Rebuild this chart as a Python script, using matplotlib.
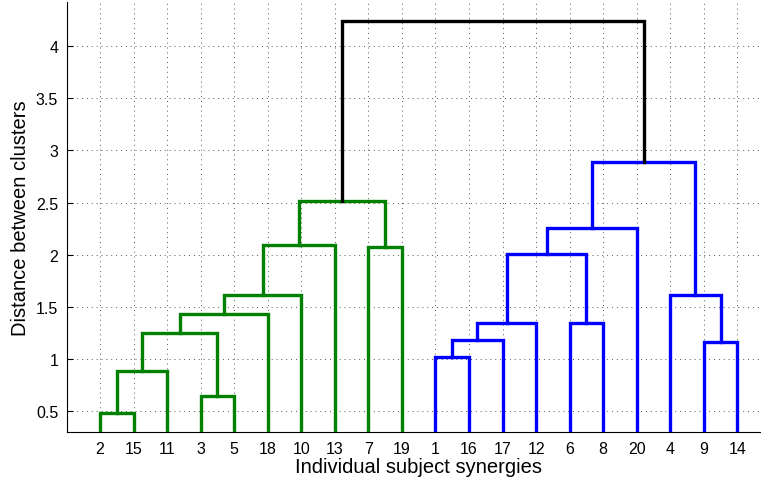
import matplotlib.pyplot as plt

# leaf order along the x axis
leaves = [2, 15, 11, 3, 5, 18, 10, 13, 7, 19, 1, 16, 17, 12, 6, 8, 20, 4, 9, 14]

# merges: (left, right, height, colour); ints are leaves, "m<i>" is an earlier merge
merges = [
    (2, 15, 0.485, "g"),
    ("m0", 11, 0.89, "g"),
    (3, 5, 0.65, "g"),
    ("m1", "m2", 1.25, "g"),
    ("m3", 18, 1.43, "g"),
    ("m4", 10, 1.61, "g"),
    ("m5", 13, 2.09, "g"),
    (7, 19, 2.075, "g"),
    ("m6", "m7", 2.515, "g"),
    (1, 16, 1.025, "b"),
    ("m9", 17, 1.18, "b"),
    ("m10", 12, 1.35, "b"),
    (6, 8, 1.345, "b"),
    ("m11", "m12", 2.005, "b"),
    ("m13", 20, 2.255, "b"),
    (9, 14, 1.165, "b"),
    (4, "m15", 1.61, "b"),
    ("m14", "m16", 2.89, "b"),
    ("m8", "m17", 4.24, "k"),
]

colours = {"g": "#008000", "b": "#0000ff", "k": "#000000"}

fig = plt.figure(figsize=(7.61, 4.89), dpi=100)
ax = fig.add_axes([66.5 / 761, (489 - 433.3) / 489, 704.4 / 761, 430.3 / 489])

pos = {leaf: i + 1 for i, leaf in enumerate(leaves)}
hgt = {leaf: 0.0 for leaf in leaves}

for i, (a, b, h, c) in enumerate(merges):
    xa, xb = pos[a], pos[b]
    ya, yb = hgt[a], hgt[b]
    ax.plot([xa, xa, xb, xb], [ya, h, h, yb], color=colours[c], lw=2.4,
            solid_joinstyle="miter", zorder=3)
    pos["m%d" % i] = (xa + xb) / 2.0
    hgt["m%d" % i] = h

ax.set_xlim(0, 21)
ax.set_ylim(0.30, 4.42)
ax.set_xticks(range(1, len(leaves) + 1))
ax.set_xticklabels([str(l) for l in leaves])
ax.set_yticks([0.5, 1, 1.5, 2, 2.5, 3, 3.5, 4])
ax.set_yticklabels(["0.5", "1", "1.5", "2", "2.5", "3", "3.5", "4"])

ax.grid(True, linestyle=(0, (1, 4)), color="#555555", linewidth=0.7)
ax.set_axisbelow(True)
ax.spines["top"].set_visible(False)
ax.spines["right"].set_visible(False)
ax.tick_params(direction="in", length=4, labelsize=11.5, pad=6)
for lbl in ax.get_xticklabels() + ax.get_yticklabels():
    lbl.set_family("Liberation Sans")

ax.set_xlabel("Individual subject synergies", fontsize=14.5, family="Liberation Sans", labelpad=1)
ax.set_ylabel("Distance between clusters", fontsize=14.5, family="Liberation Sans", labelpad=4)

fig.savefig("out.png", dpi=100)
